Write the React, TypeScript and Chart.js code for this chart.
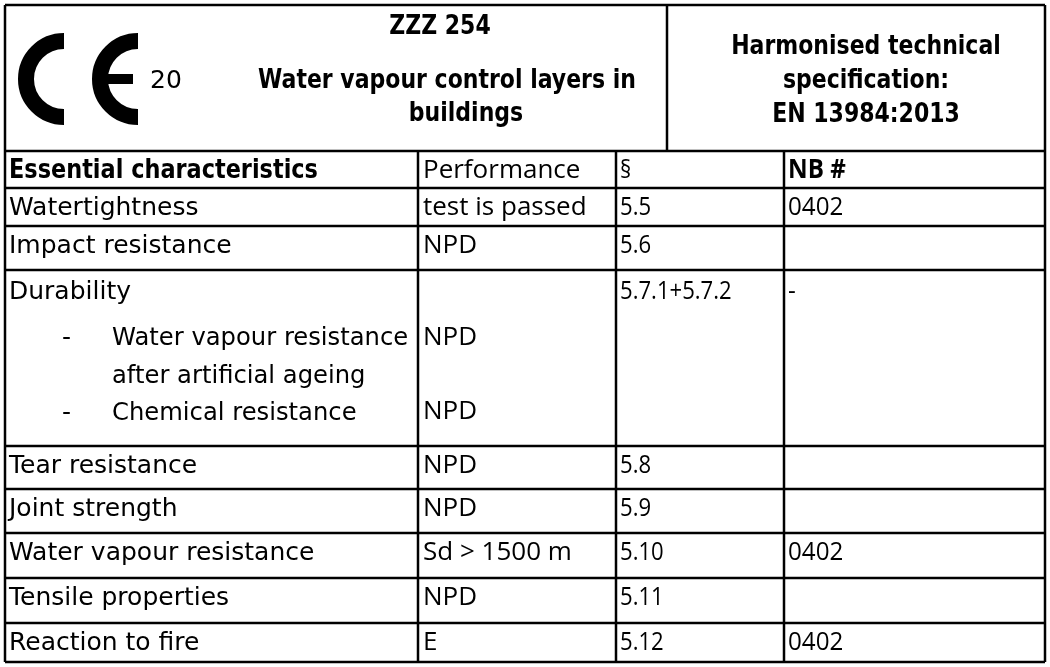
import React, { useEffect, useRef } from "react";
import { Chart, registerables } from "chart.js";

Chart.register(...registerables);

// ---------- data ----------
const ceNumber = "20";
const productLines = ["ZZZ 254", "Water vapour control layers in", "buildings"];
const specLines = ["Harmonised technical", "specification:", "EN 13984:2013"];
const columnHeads = ["Essential characteristics", "Performance", "§", "NB #"];
const characteristics = [
  "Watertightness",
  "Impact resistance",
  "Durability",
  "Tear resistance",
  "Joint strength",
  "Water vapour resistance",
  "Tensile properties",
  "Reaction to fire",
];
const performances = ["test is passed", "NPD", "", "NPD", "NPD", "Sd > 1500 m", "NPD", "E"];
const sections = ["5.5", "5.6", "5.7.1+5.7.2", "5.8", "5.9", "5.10", "5.11", "5.12"];
const notifiedBodies = ["0402", "", "-", "", "", "0402", "", "0402"];
const durabilityItems = [["Water vapour resistance", "after artificial ageing"], ["Chemical resistance"]];
const durabilityPerformances = ["NPD", "NPD"];

// ---------- layout ----------
const W = 1050;
const H = 667;
const LEFT = 5;
const RIGHT = 1045;
const TOP = 5;
const HEAD_DIVIDER = 667;
const COL_EDGES = [5, 418, 616, 784, 1045];
const ROW_EDGES = [151, 188, 226, 270, 446, 489, 533, 578, 623, 662];
const TEXT_OFFSET = 20;
const COL_TEXT_X = [9, 423, 620, 788];
const COL_HSCALE = [1, 1, 0.85, 0.93];
const DUR_ROW = 2; // index in characteristics

const FONT_BODY = '25px "DejaVu Sans"';
const FONT_BOLD = 'bold 27px "DejaVu Sans"';
const BOLD_HSCALE = 0.815;
const FONT_COLS = '26px "Open Sans"';
const FONT_COLS_BOLD = 'bold 26px "Open Sans"';

function lineDataset(x1: number, y1: number, x2: number, y2: number) {
  return {
    type: "scatter" as const,
    data: [
      { x: x1, y: y1 },
      { x: x2, y: y2 },
    ],
    showLine: true,
    borderColor: "#000",
    backgroundColor: "#000",
    borderWidth: 2.5,
    pointRadius: 0,
    fill: false,
    clip: false as any,
  };
}

function drawText(
  ctx: CanvasRenderingContext2D,
  text: string,
  x: number,
  y: number,
  font: string,
  align: CanvasTextAlign,
  hscale = 1
) {
  if (!text) return;
  ctx.save();
  ctx.font = font;
  ctx.fillStyle = "#000";
  ctx.textBaseline = "middle";
  ctx.textAlign = align;
  ctx.translate(x, y);
  ctx.scale(hscale, 1);
  ctx.fillText(text, 0, 0);
  ctx.restore();
}

const tablePlugin = {
  id: "tableText",
  beforeDraw(chart: any) {
    const ctx = chart.ctx;
    ctx.save();
    ctx.fillStyle = "#fff";
    ctx.fillRect(0, 0, chart.width, chart.height);
    ctx.restore();
  },
  afterDatasetsDraw(chart: any) {
    const ctx: CanvasRenderingContext2D = chart.ctx;
    const sx = (v: number) => chart.scales.x.getPixelForValue(v);
    const sy = (v: number) => chart.scales.y.getPixelForValue(v);

    // CE mark
    const R = 46;
    const T = 16;
    ctx.save();
    ctx.strokeStyle = "#000";
    ctx.fillStyle = "#000";
    ctx.lineWidth = T;
    ctx.lineCap = "butt";
    const cy = sy(79);
    const cCx = sx(64);
    ctx.beginPath();
    ctx.arc(cCx, cy, R - T / 2, Math.PI / 2, (3 * Math.PI) / 2);
    ctx.stroke();
    const eCx = sx(138);
    ctx.beginPath();
    ctx.arc(eCx, cy, R - T / 2, Math.PI / 2, (3 * Math.PI) / 2);
    ctx.stroke();
    ctx.fillRect(eCx - R + 4, cy - 5, R - 9, 10);
    ctx.restore();
    drawText(ctx, ceNumber, sx(150), sy(81), FONT_BODY, "left");

    // product title
    const titleX = [440, 447, 466];
    const titleY = [27, 81, 114];
    productLines.forEach((t, i) => drawText(ctx, t, sx(titleX[i]), sy(titleY[i]), FONT_BOLD, "center", BOLD_HSCALE));
    const specY = [47, 81, 115];
    specLines.forEach((t, i) => drawText(ctx, t, sx(866), sy(specY[i]), FONT_BOLD, "center", BOLD_HSCALE));

    // column heads
    const headY = sy(ROW_EDGES[0] + TEXT_OFFSET);
    drawText(ctx, columnHeads[0], sx(COL_TEXT_X[0]), headY, FONT_BOLD, "left", 0.83);
    drawText(ctx, columnHeads[1], sx(COL_TEXT_X[1]), headY, FONT_COLS, "left", COL_HSCALE[1]);
    drawText(ctx, columnHeads[2], sx(COL_TEXT_X[2]), headY, FONT_COLS, "left", COL_HSCALE[2]);
    drawText(ctx, columnHeads[3], sx(COL_TEXT_X[3]), headY, FONT_COLS_BOLD, "left", COL_HSCALE[3]);

    // body rows
    characteristics.forEach((name, i) => {
      const off = i === DUR_ROW ? TEXT_OFFSET + 2 : TEXT_OFFSET;
      const y = sy(ROW_EDGES[i + 1] + off);
      drawText(ctx, name, sx(COL_TEXT_X[0]), y, FONT_BODY, "left");
      drawText(ctx, performances[i], sx(COL_TEXT_X[1]), y, FONT_COLS, "left", COL_HSCALE[1]);
      drawText(ctx, sections[i], sx(COL_TEXT_X[2]), y, FONT_COLS, "left", COL_HSCALE[2]);
      drawText(ctx, notifiedBodies[i], sx(COL_TEXT_X[3]), y, FONT_COLS, "left", COL_HSCALE[3]);
    });

    // durability sub-items
    const durTop = ROW_EDGES[DUR_ROW + 1];
    const subOffsets = [[68, 106], [143]];
    const perfOffsets = [68, 142];
    durabilityItems.forEach((lines, k) => {
      drawText(ctx, "-", sx(62), sy(durTop + subOffsets[k][0]), FONT_BODY, "left");
      lines.forEach((l, j) => drawText(ctx, l, sx(112), sy(durTop + subOffsets[k][j]), FONT_BODY, "left", 0.97));
      drawText(ctx, durabilityPerformances[k], sx(COL_TEXT_X[1]), sy(durTop + perfOffsets[k]), FONT_COLS, "left", COL_HSCALE[1]);
    });
  },
};

export default function App() {
  const ref = useRef<HTMLCanvasElement | null>(null);
  useEffect(() => {
    document.body.style.margin = "0";
    const canvas = ref.current;
    if (!canvas) return;
    const bottom = ROW_EDGES[ROW_EDGES.length - 1];
    const datasets: any[] = [];
    // outer frame
    datasets.push(lineDataset(LEFT, TOP, RIGHT, TOP));
    datasets.push(lineDataset(LEFT, TOP, LEFT, bottom));
    datasets.push(lineDataset(RIGHT, TOP, RIGHT, bottom));
    // header divider
    datasets.push(lineDataset(HEAD_DIVIDER, TOP, HEAD_DIVIDER, ROW_EDGES[0]));
    // horizontal row lines
    ROW_EDGES.forEach((y) => datasets.push(lineDataset(LEFT, y, RIGHT, y)));
    // column lines
    COL_EDGES.slice(1, -1).forEach((x) => datasets.push(lineDataset(x, ROW_EDGES[0], x, bottom)));

    const chart = new Chart(canvas, {
      type: "scatter",
      data: { datasets },
      options: {
        responsive: false,
        animation: false,
        devicePixelRatio: 1,
        layout: { padding: 0 },
        events: [],
        plugins: { legend: { display: false }, tooltip: { enabled: false }, title: { display: false } },
        scales: {
          x: { type: "linear", min: 0, max: W, display: false },
          y: { type: "linear", min: 0, max: H, reverse: true, display: false },
        },
      },
      plugins: [tablePlugin],
    } as any);
    return () => chart.destroy();
  }, []);
  return (
    <div style={{ position: "absolute", left: 0, top: 0, width: W, height: H, background: "#fff" }}>
      <canvas ref={ref} width={W} height={H} style={{ display: "block", width: W, height: H }} />
    </div>
  );
}
